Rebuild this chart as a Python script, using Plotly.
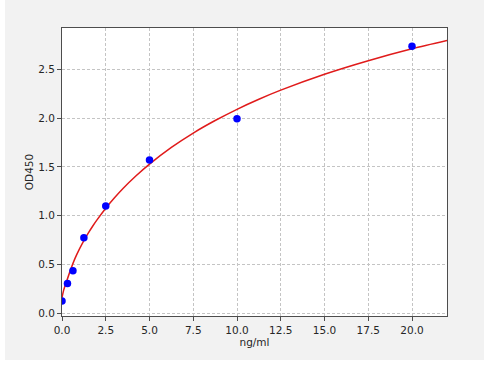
import plotly.graph_objects as go

# Measured standards (ng/ml vs OD450)
conc = [0, 0.3125, 0.625, 1.25, 2.5, 5, 10, 20]
od = [0.126, 0.305, 0.435, 0.775, 1.10, 1.571, 1.994, 2.735]

# Fitted curve
curve_x = [0, 0.1, 0.23, 0.5, 0.75, 1.0, 1.25, 1.5, 1.75, 2.0, 2.5, 3.0, 3.5, 4.25, 5, 6.25, 7.5, 8.75,
           10, 11.25, 12.5, 15, 17.5, 20, 22]
curve_y = [0.16, 0.24, 0.31, 0.45, 0.565, 0.66, 0.745, 0.821, 0.892, 0.957, 1.077, 1.184, 1.282, 1.412,
           1.529, 1.70, 1.847, 1.975, 2.09, 2.193, 2.286, 2.449, 2.588, 2.71, 2.795]

x_ticks = [0, 2.5, 5, 7.5, 10, 12.5, 15, 17.5, 20]
y_ticks = [0, 0.5, 1.0, 1.5, 2.0, 2.5]

W, H = 493, 386
L, R, T, B = 62, 447, 28, 316
pw, ph = R - L, B - T

def px(xp):
    return (xp - L) / pw

def py(yp):
    return (B - yp) / ph

fig = go.Figure()
fig.add_trace(go.Scatter(x=curve_x, y=curve_y, mode="lines",
                         line=dict(color="#e01b1b", width=1.5, shape="spline", smoothing=0.8),
                         hoverinfo="skip", showlegend=False))
fig.add_trace(go.Scatter(x=conc, y=od, mode="markers",
                         marker=dict(color="#0000ff", size=7.5, line=dict(width=0)),
                         showlegend=False))

txt = dict(family="DejaVu Sans", size=10.5, color="#262626")
axis_common = dict(showline=True, mirror=True, linecolor="#4d4d4d", linewidth=1,
                   ticks="outside", ticklen=4, tickwidth=1, tickcolor="#4d4d4d",
                   showgrid=True, gridcolor="#c4c4c4", gridwidth=0.8, griddash="3px,2px",
                   zeroline=False, tickfont=txt)

fig.update_xaxes(range=[0, 22.0], tickvals=x_ticks, tickformat=".1f",
                 title=dict(text="ng/ml", font=txt, standoff=4),
                 **axis_common)
fig.update_yaxes(range=[-0.0277, 2.923], tickvals=y_ticks, tickformat=".1f",
                 title=dict(text="OD450", font=txt, standoff=2),
                 **axis_common)

# White strips around the gray figure area
strips = [
    (0, 360, W, H),   # bottom
    (0, 0, 4, 360),   # left
    (485, 0, W, 360), # right
]
shapes = []
for x0, y0, x1, y1 in strips:
    shapes.append(dict(type="rect", xref="paper", yref="paper",
                       x0=px(x0 - 1), x1=px(x1 + 1), y0=py(y1 + 1), y1=py(y0 - (1 if y0 == 0 else 0)),
                       fillcolor="white", line=dict(width=0), layer="below"))

fig.update_layout(width=W, height=H, margin=dict(l=L, r=W - R, t=T, b=H - B),
                  paper_bgcolor="#f2f2f2", plot_bgcolor="white",
                  shapes=shapes, showlegend=False,
                  font=dict(family="DejaVu Sans"))

fig.write_html("out.html")
